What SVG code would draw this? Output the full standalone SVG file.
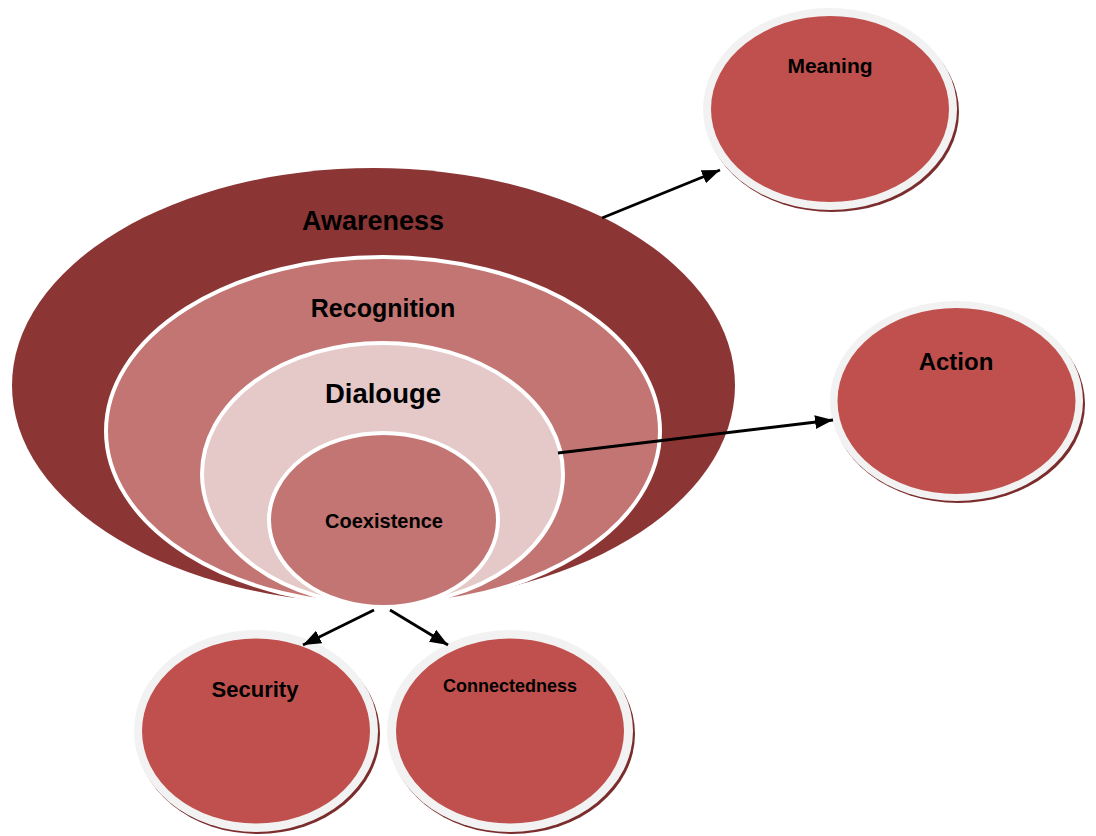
<svg xmlns="http://www.w3.org/2000/svg" width="1096" height="836" viewBox="0 0 1096 836">
<style>
text{font-family:"Liberation Sans",Arial,sans-serif;font-weight:bold;fill:#000;text-anchor:middle}
.ring{stroke:#fff;stroke-width:4}
.shadow{fill:#7B2C2C}
.rim{fill:#F2F2F2}
.disc{fill:#C0504D}
.conn{stroke:#000;stroke-width:2.8;fill:none;marker-end:url(#arr)}
</style>
<defs>
<marker id="arr" markerUnits="userSpaceOnUse" markerWidth="20" markerHeight="16" refX="18" refY="8" orient="auto">
<path d="M0,1 L18,8 L0,15 Z" fill="#000"/>
</marker>
</defs>
<rect width="1096" height="836" fill="#fff"/>
<g id="awareness">
<ellipse cx="373.5" cy="385.5" rx="361.5" ry="217.5" fill="#8B3635"/>
<text x="373" y="230" font-size="27">Awareness</text>
</g>
<g id="recognition">
<ellipse class="ring" cx="383" cy="431" rx="277" ry="174" fill="#C27572"/>
<text x="383" y="317" font-size="25">Recognition</text>
</g>
<g id="dialouge">
<ellipse class="ring" cx="382.5" cy="474" rx="180.5" ry="131" fill="#E5C8C8"/>
<text x="383" y="403" font-size="27.5">Dialouge</text>
</g>
<g id="coexistence">
<ellipse class="ring" cx="383.5" cy="520" rx="114.5" ry="87" fill="#C27572"/>
<text x="384" y="528" font-size="20">Coexistence</text>
</g>
<g id="meaning">
<ellipse class="shadow" cx="832" cy="112" rx="127" ry="100"/>
<ellipse class="rim" cx="830" cy="109" rx="127" ry="101"/>
<ellipse class="disc" cx="830" cy="109" rx="119" ry="93"/>
<text x="830" y="73" font-size="21">Meaning</text>
</g>
<g id="action">
<ellipse class="shadow" cx="958.5" cy="404" rx="126.5" ry="99"/>
<ellipse class="rim" cx="956.5" cy="401" rx="126.5" ry="100"/>
<ellipse class="disc" cx="956.5" cy="401" rx="119" ry="93"/>
<text x="956" y="370" font-size="24">Action</text>
</g>
<g id="security">
<ellipse class="shadow" cx="258" cy="734" rx="122" ry="100"/>
<ellipse class="rim" cx="256" cy="731" rx="122" ry="101"/>
<ellipse class="disc" cx="256" cy="731" rx="114" ry="92.5"/>
<text x="255" y="697" font-size="22">Security</text>
</g>
<g id="connectedness">
<ellipse class="shadow" cx="512" cy="734" rx="123" ry="100"/>
<ellipse class="rim" cx="510" cy="731" rx="123" ry="101"/>
<ellipse class="disc" cx="510" cy="731" rx="114" ry="92.5"/>
<text x="510" y="692" font-size="18">Connectedness</text>
</g>
<g id="connectors">
<line class="conn" x1="602" y1="218" x2="720" y2="170"/>
<line class="conn" x1="558" y1="453" x2="833" y2="420"/>
<line class="conn" x1="374" y1="610" x2="303" y2="645"/>
<line class="conn" x1="390" y1="610" x2="448" y2="645"/>
</g>
</svg>
